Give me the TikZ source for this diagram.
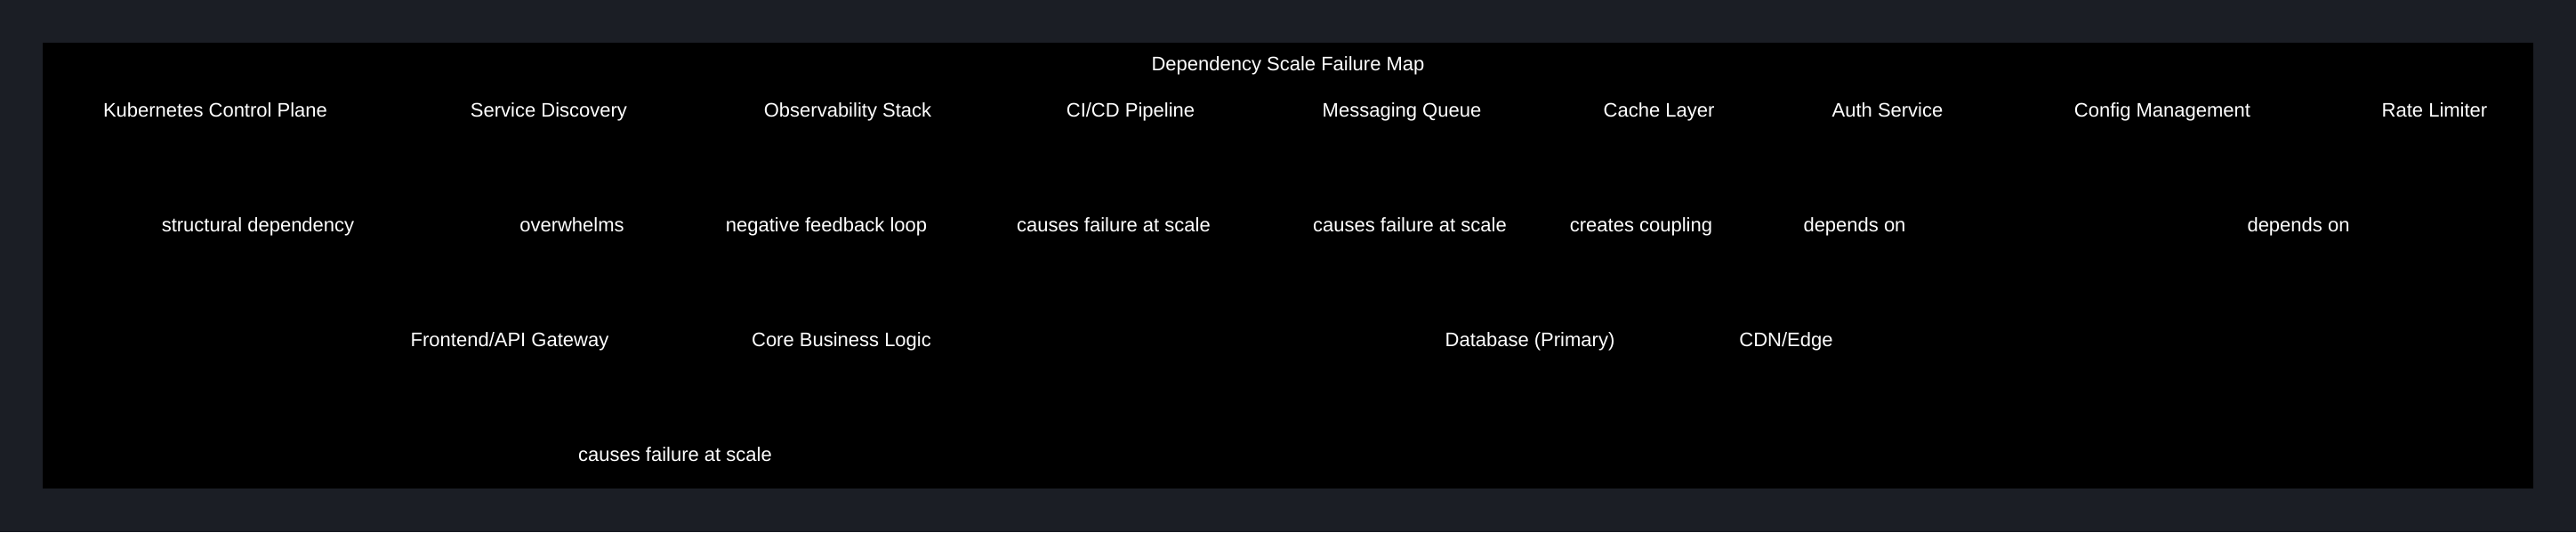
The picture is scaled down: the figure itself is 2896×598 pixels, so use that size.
\documentclass[tikz,border=0pt]{standalone}
\usepackage{fontspec}
\setmainfont{Liberation Sans}
\definecolor{bg}{HTML}{1B1E25}
\begin{document}
\begin{tikzpicture}[x=1pt,y=-1pt,lbl/.style={text=white,font=\fontsize{22}{26}\selectfont,inner sep=0pt,text height=16pt,text depth=5pt}]
\fill[bg] (0,0) rectangle (2896,598);
\useasboundingbox (0,0) rectangle (2896,598);
\fill[black] (48,48) rectangle (2848,549);
\node[lbl] (title) at (1448,74) {Dependency Scale Failure Map};
\node[lbl] (k8s) at (242,126) {Kubernetes Control Plane};
\node[lbl] (sd) at (617,126) {Service Discovery};
\node[lbl] (obs) at (953,126) {Observability Stack};
\node[lbl] (cicd) at (1271,126) {CI/CD Pipeline};
\node[lbl] (mq) at (1576,126) {Messaging Queue};
\node[lbl] (cache) at (1865,126) {Cache Layer};
\node[lbl] (auth) at (2122,126) {Auth Service};
\node[lbl] (cfg) at (2431,126) {Config Management};
\node[lbl] (rl) at (2737,126) {Rate Limiter};
\node[lbl] (e1) at (290,255) {structural dependency};
\node[lbl] (e2) at (643,255) {overwhelms};
\node[lbl] (e3) at (929,255) {negative feedback loop};
\node[lbl] (e4) at (1252,255) {causes failure at scale};
\node[lbl] (e5) at (1585,255) {causes failure at scale};
\node[lbl] (e6) at (1845,255) {creates coupling};
\node[lbl] (e7) at (2085,255) {depends on};
\node[lbl] (e8) at (2584,255) {depends on};
\node[lbl] (fe) at (573,384) {Frontend/API Gateway};
\node[lbl] (core) at (946,384) {Core Business Logic};
\node[lbl] (db) at (1720,384) {Database (Primary)};
\node[lbl] (cdn) at (2008,384) {CDN/Edge};
\node[lbl] (e9) at (759,513) {causes failure at scale};
\end{tikzpicture}
\end{document}
